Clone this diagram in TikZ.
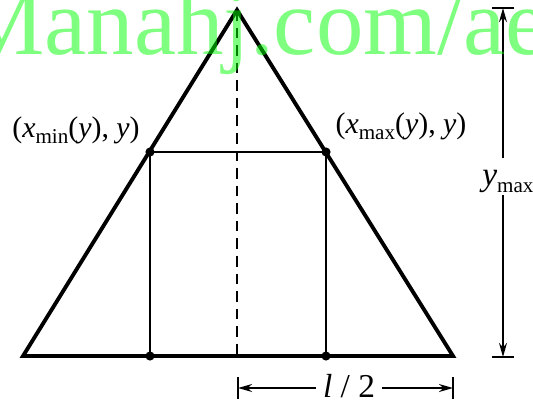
\documentclass[tikz,border=0pt]{standalone}
\usepackage{fontspec}
\setmainfont{Liberation Serif}
\usetikzlibrary{arrows.meta}
\newcommand{\lo}[1]{\raisebox{-0.5ex}{\fontsize{12}{14}\selectfont #1}}

\begin{document}
\begin{tikzpicture}[x=0.02cm, y=-0.02cm, >={Stealth[length=8pt,width=4.5pt]},
  side/.style={line width=2.2pt, line join=miter},
  inner/.style={line width=1.2pt},
  tick/.style={line width=1.2pt},
  lbl/.style={font=\rmfamily\fontsize{17}{20}\selectfont, inner sep=0pt}]
  \useasboundingbox (0,0) rectangle (533,400);
  % triangle corners
  \coordinate (apex) at (237,10);
  \coordinate (bl) at (23,356);
  \coordinate (br) at (453,356);
  \coordinate (foot) at (237,356);
  % points at height y
  \coordinate (pmin) at (150,152);
  \coordinate (pmax) at (326,152);
  \coordinate (qmin) at (150,356);
  \coordinate (qmax) at (326,356);
  \draw[side] (bl) -- (apex) -- (br) -- cycle;
  \draw[inner, dashed, dash pattern=on 6pt off 4pt] (apex) -- (foot);
  \draw[inner] (qmin) -- (pmin) -- (pmax) -- (qmax);
  \foreach \p in {pmin,pmax,qmin,qmax}
    \fill (\p) circle (2.6pt);
  \node[lbl, anchor=base] (lmin) at (76,137) {(\textit{x}\lo{min}(\textit{y}), \textit{y})};
  \node[lbl, anchor=base] (lmax) at (401,133) {(\textit{x}\lo{max}(\textit{y}), \textit{y})};
  % height y_max
  \coordinate (ytop) at (503,8);
  \coordinate (ybot) at (503,357);
  \coordinate (ycut) at (503,158);
  \coordinate (ycut2) at (503,195);
  \draw[tick] ([xshift=-6]ytop) -- ([xshift=6]ytop);
  \draw[tick] ([xshift=-6]ybot) -- ([xshift=6]ybot);
  \draw[tick, ->] (ycut) -- (ytop);
  \draw[tick, ->] (ycut2) -- (ybot);
  \node[lbl, anchor=base west, font=\rmfamily\fontsize{19}{22}\selectfont] (ylab) at (482,185) {\textit{y}\lo{max}};
  % half width l/2
  \coordinate (hl) at (238,388);
  \coordinate (hr) at (453,388);
  \coordinate (hcut) at (316,388);
  \coordinate (hcut2) at (382,388);
  \draw[tick] ([yshift=-6]hl) -- ([yshift=6]hl);
  \draw[tick] ([yshift=-6]hr) -- ([yshift=6]hr);
  \draw[tick, ->] (hcut) -- (hl);
  \draw[tick, ->] (hcut2) -- (hr);
  \node[lbl, anchor=base, font=\rmfamily\fontsize{19}{22}\selectfont] (hlab) at (349,397) {\textit{l} / 2};
  % watermark
  \node[anchor=base west, inner sep=0pt, text=green, text opacity=0.5,
    font=\rmfamily\fontsize{54}{60}\selectfont] (wm) at (-40,54) {Manahj.com/ae};
\end{tikzpicture}
\end{document}
